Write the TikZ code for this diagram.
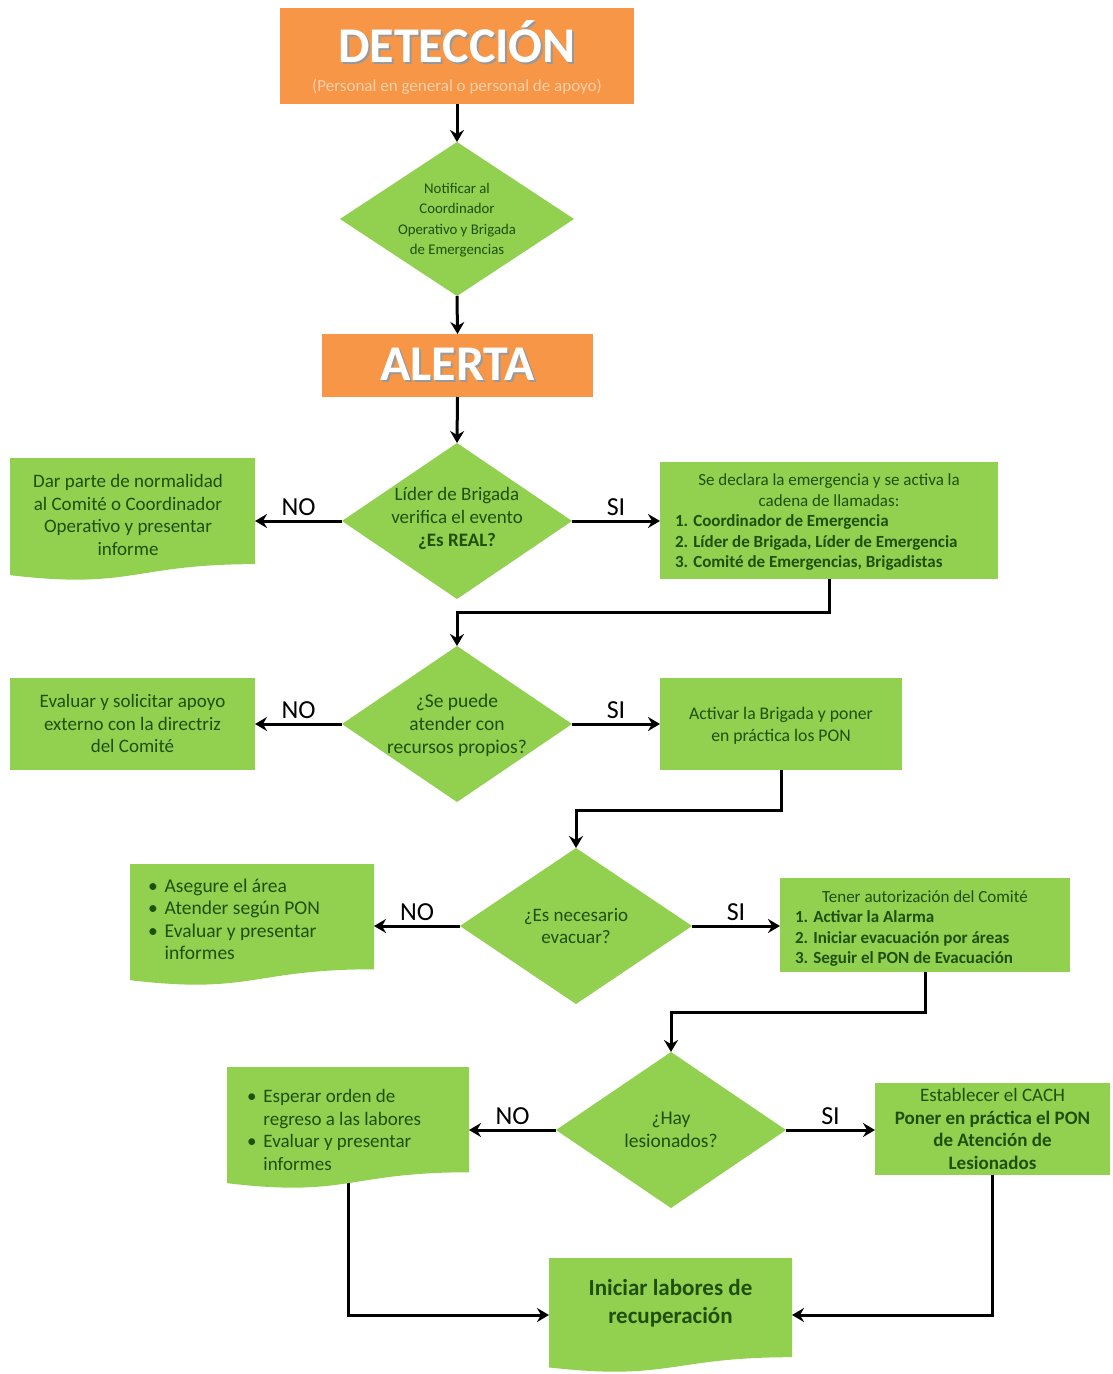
\documentclass[tikz,border=0pt]{standalone}
\usepackage{fontspec}
\setmainfont{Carlito}
\usetikzlibrary{shapes.geometric,arrows.meta,calc,backgrounds}
\definecolor{orbox}{HTML}{F79646}
\definecolor{subor}{HTML}{FBD0AC}
\definecolor{boxgreen}{HTML}{92D050}
\definecolor{txtgreen}{RGB}{30,80,12}
\newcommand\fs[2]{\fontsize{#1}{#2}\selectfont}
\newcommand\shadowtxt[1]{\makebox[0pt][l]{\hspace{2pt}\raisebox{-2pt}{\textcolor{black!40}{#1}}}#1}
\newcommand\ctab[1]{\makebox[0pt]{\begin{tabular}{@{}c@{}}#1\end{tabular}}}
\newcommand\btab[2]{\makebox[0pt]{\parbox{#1}{\begin{tabular}{@{}l@{\hspace{7pt}}l@{}}#2\end{tabular}}}}
\begin{document}
\begin{tikzpicture}[x=1pt,y=-1pt,
  every node/.style={inner sep=0pt,outer sep=0pt},
  orangebox/.style={rectangle,fill=orbox,text=white,font=\fs{50}{50}\bfseries},
  procbox/.style={rectangle,fill=boxgreen,text=txtgreen},
  decbox/.style={diamond,fill=boxgreen,text=txtgreen},
  docbox/.style={rectangle,text=txtgreen,path picture={
    \fill[boxgreen] let \p1=(path picture bounding box.north west), \p2=(path picture bounding box.south east) in
      (\x1,\y1) -- (\x2,\y1) -- (\x2,{\y1+0.87*(\y2-\y1)})
      .. controls ({0.5*(\x1+\x2)},{\y1+0.87*(\y2-\y1)}) and ({0.5*(\x1+\x2)},{\y1+1.08*(\y2-\y1)}) .. (\x1,{\y1+0.96*(\y2-\y1)}) -- cycle;}},
  tx/.style={text height=#1,text depth=0pt},
  arr/.style={line width=3pt,-{Stealth[length=12pt,width=14pt,inset=4pt]}},
  lbl/.style={font=\fs{26}{28},text=black,above=5pt}]
\useasboundingbox (0,0) rectangle (1112,1374);
\begin{pgfonlayer}{background}
\fill[white] (0,0) rectangle (1112,1374);
\end{pgfonlayer}

% top
\node[orangebox,minimum width=354pt,minimum height=96pt,text height=12pt,text depth=0pt] (det) at (457,56)
  {\parbox[t]{350pt}{\centering\shadowtxt{DETECCIÓN}\par\nointerlineskip\vspace{15pt}{\fs{17}{20}\mdseries\textcolor{subor}{(Personal en general o personal de apoyo)}\par}}};
\node[decbox,font=\fs{14.8}{20.4},minimum width=234pt,minimum height=154pt,tx=9.4pt] (n1) at (457,219)
  {\ctab{Notificar al\\Coordinador\\Operativo y Brigada\\de Emergencias}};
\node[orangebox,minimum width=271pt,minimum height=63pt] (alerta) at (457.5,365.5) {\shadowtxt{ALERTA}};

% row 1
\node[decbox,font=\fs{19}{23},minimum width=230pt,minimum height=156pt,tx=4.5pt] (d2) at (457,521)
  {\ctab{Líder de Brigada\\verifica el evento\\\textbf{¿Es REAL?}}};
\node[docbox,font=\fs{19}{22.5},minimum width=245pt,minimum height=122pt,tx=4.5pt] (no1) at (132.5,519)
  {\makebox[0pt]{\begin{tabular}{@{}c@{}}Dar parte de normalidad\\al Comité o Coordinador\\Operativo y presentar\\informe\end{tabular}\hspace{9pt}}};
\node[procbox,font=\fs{17}{20.5},minimum width=338pt,minimum height=117pt,tx=12pt] (r1) at (829,520.5)
  {\makebox[0pt]{\parbox{308pt}{\centering Se declara la emergencia y se activa la\\cadena de llamadas:\par\raggedright\bfseries 1. Coordinador de Emergencia\\2. Líder de Brigada, Líder de Emergencia\\3. Comité de Emergencias, Brigadistas\par}}};

% row 2
\node[decbox,font=\fs{19.5}{23},minimum width=230pt,minimum height=156pt,tx=13.8pt] (d3) at (457,724)
  {\ctab{¿Se puede\\atender con\\recursos propios?}};
\node[procbox,font=\fs{19}{22.5},minimum width=245pt,minimum height=92pt,tx=12.5pt] (no2) at (132.5,724)
  {\ctab{Evaluar y solicitar apoyo\\externo con la directriz\\del Comité}};
\node[procbox,font=\fs{17.7}{22},minimum width=242pt,minimum height=92pt,tx=12.8pt] (r2) at (781,724)
  {\ctab{Activar la Brigada y poner\\en práctica los PON}};

% row 3
\node[decbox,font=\fs{19}{22},minimum width=232pt,minimum height=156pt,tx=13.5pt] (d4) at (576,926)
  {\ctab{¿Es necesario\\evacuar?}};
\node[docbox,font=\fs{19.5}{22.5},minimum width=244pt,minimum height=121pt,tx=4.8pt] (no3) at (252,924.5)
  {\btab{208pt}{\textbullet & Asegure el área\\\textbullet & Atender según PON\\\textbullet & Evaluar y presentar\\ & informes}};
\node[procbox,font=\fs{17}{20.5},minimum width=290pt,minimum height=94pt,tx=15.5pt] (r3) at (925,925)
  {\makebox[0pt]{\parbox{260pt}{\centering Tener autorización del Comité\par\raggedright\bfseries 1. Activar la Alarma\\2. Iniciar evacuación por áreas\\3. Seguir el PON de Evacuación\par}}};

% row 4
\node[decbox,font=\fs{19.5}{23},minimum width=230pt,minimum height=156pt,tx=12.8pt] (d5) at (671,1130)
  {\ctab{¿Hay\\lesionados?}};
\node[docbox,font=\fs{19}{22.5},minimum width=242pt,minimum height=121pt,tx=17.5pt] (no4) at (348,1127.5)
  {\btab{202pt}{\textbullet & Esperar orden de\\ & regreso a las labores\\\textbullet & Evaluar y presentar\\ & informes}};
\node[procbox,font=\fs{19}{22.5},minimum width=235pt,minimum height=92pt,tx=12.5pt] (r4) at (992.5,1129)
  {\ctab{Establecer el CACH\\\textbf{Poner en práctica el PON}\\\textbf{de Atención de}\\\textbf{Lesionados}}};

% final
\node[docbox,font=\fs{23}{28}\bfseries,minimum width=243pt,minimum height=114pt,text height=0pt,text depth=10.5pt] (fin) at (670.5,1315)
  {\ctab{Iniciar labores de\\recuperación}};

% connectors
\draw[arr] (det.south) -- (n1.north);
\draw[arr] (n1.south) -- (alerta.north);
\draw[arr] (alerta.south) -- (d2.north);
\draw[arr] (d2.west) -- (d2.west -| no1.east) node[lbl,midway] {NO};
\draw[arr] (d2.east) -- (d2.east -| r1.west) node[lbl,midway] {SI};
\draw[arr] (r1.south) -- ++(0,33) -| (d3.north);
\draw[arr] (d3.west) -- (d3.west -| no2.east) node[lbl,midway] {NO};
\draw[arr] (d3.east) -- (d3.east -| r2.west) node[lbl,midway] {SI};
\draw[arr] (r2.south) -- ++(0,40) -| (d4.north);
\draw[arr] (d4.west) -- (d4.west -| no3.east) node[lbl,midway] {NO};
\draw[arr] (d4.east) -- (d4.east -| r3.west) node[lbl,midway] {SI};
\draw[arr] (r3.south) -- ++(0,40) -| (d5.north);
\draw[arr] (d5.west) -- (d5.west -| no4.east) node[lbl,midway] {NO};
\draw[arr] (d5.east) -- (d5.east -| r4.west) node[lbl,midway] {SI};
\begin{pgfonlayer}{background}
\draw[arr] (no4.center) |- (fin.west);
\end{pgfonlayer}
\draw[arr] (r4.south) |- (fin.east);
\end{tikzpicture}
\end{document}
